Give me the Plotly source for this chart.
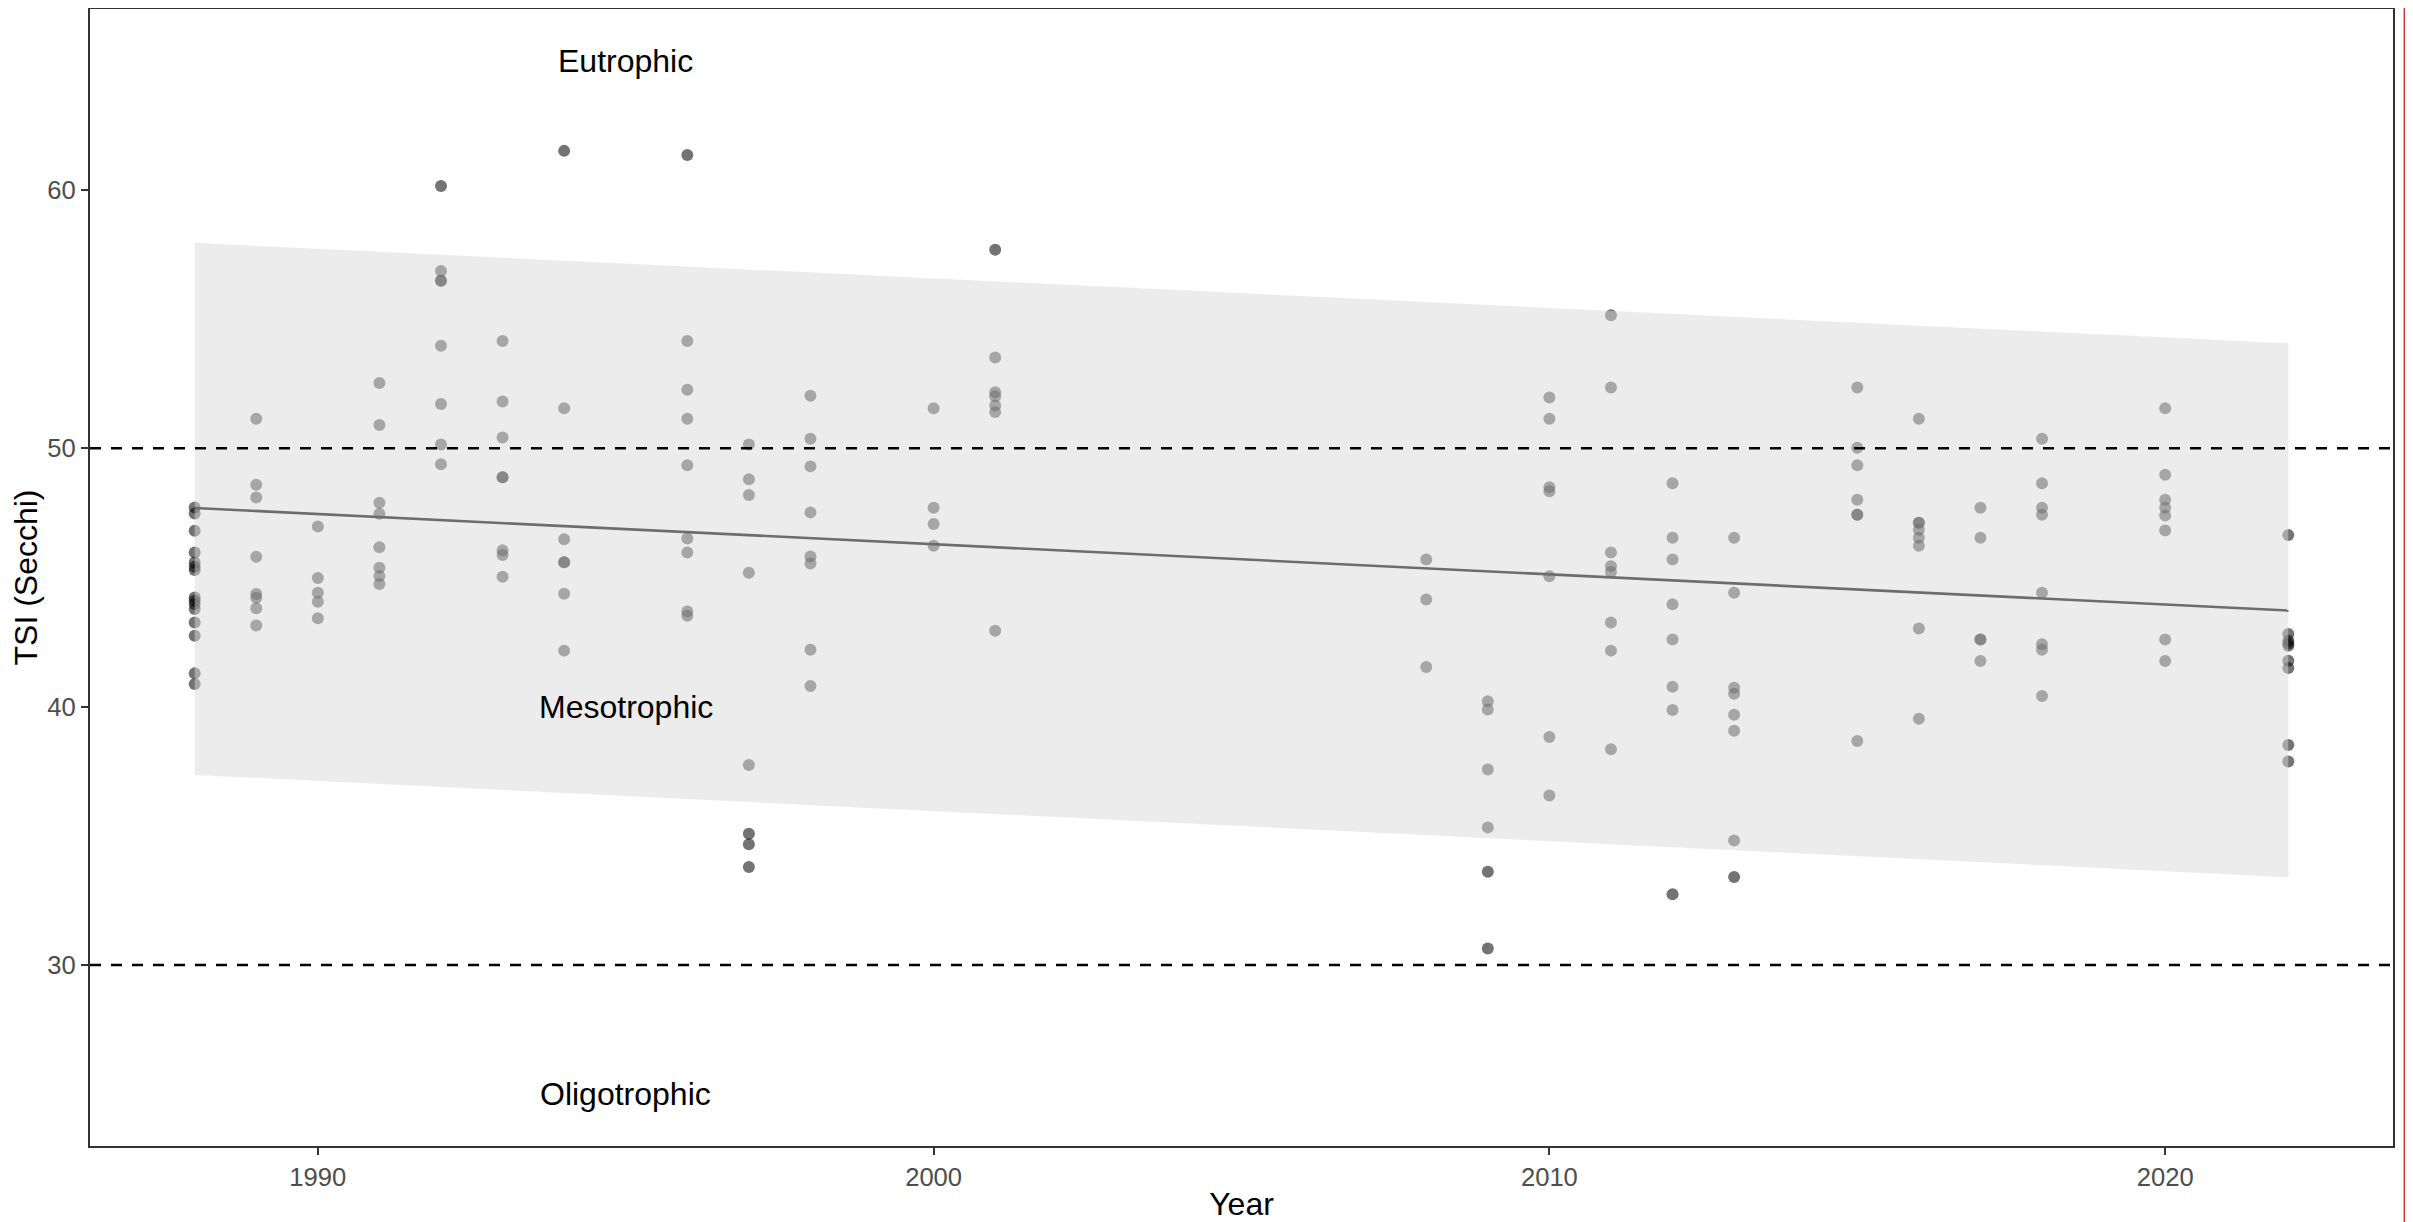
import plotly.graph_objects as go

# ---- data ----
years_1988 = [47.71, 47.48, 46.81, 45.97, 45.58, 45.42, 45.29, 44.23, 44.10, 43.97, 43.78, 43.26, 42.75, 41.29, 40.88]
years_1989 = [51.14, 48.59, 48.10, 45.80, 44.36, 44.22, 43.81, 43.14]
years_1990 = [46.97, 44.98, 44.41, 44.06, 43.42]
years_1991 = [52.53, 50.90, 47.89, 47.47, 46.17, 45.38, 45.06, 44.75]
years_1992 = [60.15, 56.86, 56.48, 56.48, 53.97, 51.71, 50.15, 49.38]
years_1993 = [54.15, 51.81, 50.42, 48.88, 48.88, 46.05, 45.87, 45.03]
years_1994 = [61.51, 51.55, 46.48, 45.59, 45.59, 44.37, 42.17]
years_1996 = [61.35, 54.15, 52.27, 51.14, 49.34, 46.51, 45.97, 43.68, 43.52]
years_1997 = [50.15, 48.80, 48.19, 45.18, 37.74, 35.08, 34.68, 33.80]
years_1998 = [52.03, 50.37, 49.30, 47.52, 45.81, 45.54, 42.20, 40.80]
years_2000 = [51.55, 47.70, 47.07, 46.23]
years_2001 = [57.68, 53.51, 52.17, 52.01, 51.66, 51.40, 42.94]
years_2008 = [45.70, 44.15, 41.54]
years_2009 = [40.21, 39.89, 37.57, 35.33, 33.61, 30.64]
years_2010 = [51.97, 51.14, 48.49, 48.34, 45.05, 38.83, 36.56]
years_2011 = [55.15, 52.35, 45.97, 45.44, 45.21, 43.26, 42.17, 38.35]
years_2012 = [48.65, 46.54, 45.70, 43.96, 42.60, 40.77, 39.87, 32.74]
years_2013 = [46.54, 44.41, 40.73, 40.50, 39.69, 39.07, 34.82, 33.41]
years_2015 = [52.35, 50.02, 49.34, 48.01, 47.43, 47.43, 38.67]
years_2016 = [51.14, 47.12, 47.12, 46.85, 46.54, 46.23, 43.03, 39.53]
years_2017 = [47.70, 46.54, 42.60, 42.60, 41.77]
years_2018 = [50.37, 48.65, 47.70, 47.43, 44.41, 42.42, 42.20, 40.41]
years_2020 = [51.55, 48.98, 48.01, 47.70, 47.40, 46.82, 42.60, 41.77]
years_2022 = [46.64, 42.81, 42.55, 42.45, 42.36, 41.78, 41.50, 38.52, 37.88]

tsi_by_year = {
    1988: years_1988, 1989: years_1989, 1990: years_1990, 1991: years_1991,
    1992: years_1992, 1993: years_1993, 1994: years_1994, 1996: years_1996,
    1997: years_1997, 1998: years_1998, 2000: years_2000, 2001: years_2001,
    2008: years_2008, 2009: years_2009, 2010: years_2010, 2011: years_2011,
    2012: years_2012, 2013: years_2013, 2015: years_2015, 2016: years_2016,
    2017: years_2017, 2018: years_2018, 2020: years_2020, 2022: years_2022,
}

trend_years = [1988, 2022]
trend_tsi = [47.69, 43.72]
band_lower = [37.36, 33.40]
band_upper = [57.95, 54.06]

threshold_values = [50, 30]
zone_labels = ["Eutrophic", "Mesotrophic", "Oligotrophic"]
zone_label_y = [65, 40, 25]
zone_label_x = 1995

x_ticks = [1990, 2000, 2010, 2020]
y_ticks = [30, 40, 50, 60]

# ---- build figure ----
pt_x, pt_y = [], []
for yr, vals in tsi_by_year.items():
    for v in vals:
        pt_x.append(yr)
        pt_y.append(v)

FONT = "Liberation Sans, Arial, sans-serif"
fig = go.Figure()

fig.add_trace(go.Scatter(
    x=pt_x, y=pt_y, mode="markers",
    marker=dict(size=12, color="rgba(0,0,0,0.55)", line=dict(width=0)),
    showlegend=False, hoverinfo="x+y"))

fig.add_trace(go.Scatter(
    x=trend_years, y=trend_tsi, mode="lines",
    line=dict(color="black", width=2.6), showlegend=False))

fig.add_trace(go.Scatter(
    x=trend_years + trend_years[::-1], y=band_upper + band_lower[::-1],
    mode="lines", fill="toself", fillcolor="rgba(218,218,218,0.5)",
    line=dict(width=0, color="rgba(0,0,0,0)"), showlegend=False, hoverinfo="skip"))

for t in threshold_values:
    fig.add_hline(y=t, line=dict(color="black", width=2.5, dash="11px,10px"), layer="above")

for lab, ly in zip(zone_labels, zone_label_y):
    fig.add_annotation(x=zone_label_x, y=ly, text=lab, showarrow=False,
                       xanchor="center", yanchor="middle",
                       font=dict(family=FONT, size=32, color="black"))

# thin red strip at right edge of the reference image
fig.add_shape(type="rect", xref="paper", yref="paper",
              x0=1.0046, x1=1.0076, y0=-0.1, y1=1.02,
              fillcolor="#cc3030", line=dict(width=0), layer="above")

axis_common = dict(
    showgrid=False, zeroline=False, showline=True, mirror=True,
    linecolor="#333333", linewidth=1.5,
    ticks="outside", ticklen=7.5, tickwidth=1.5, tickcolor="#333333",
    tickfont=dict(family=FONT, size=25.6, color="#4d4d4d"),
)

fig.update_xaxes(range=[1986.3, 2023.7], tickvals=x_ticks,
                 title=dict(text="Year", font=dict(family=FONT, size=32, color="black"), standoff=6),
                 **axis_common)
fig.update_yaxes(range=[23, 67], tickvals=y_ticks,
                 title=dict(text="TSI (Secchi)", font=dict(family=FONT, size=32, color="black"), standoff=8),
                 **axis_common)

# the page adds an 8px body margin, so the figure is sized to fit the remaining viewport
fig.update_layout(
    width=2405, height=1214,
    margin=dict(l=82, r=20, t=1, b=76, autoexpand=False),
    plot_bgcolor="white", paper_bgcolor="white",
    font=dict(family=FONT),
)

fig.write_html("out.html")
